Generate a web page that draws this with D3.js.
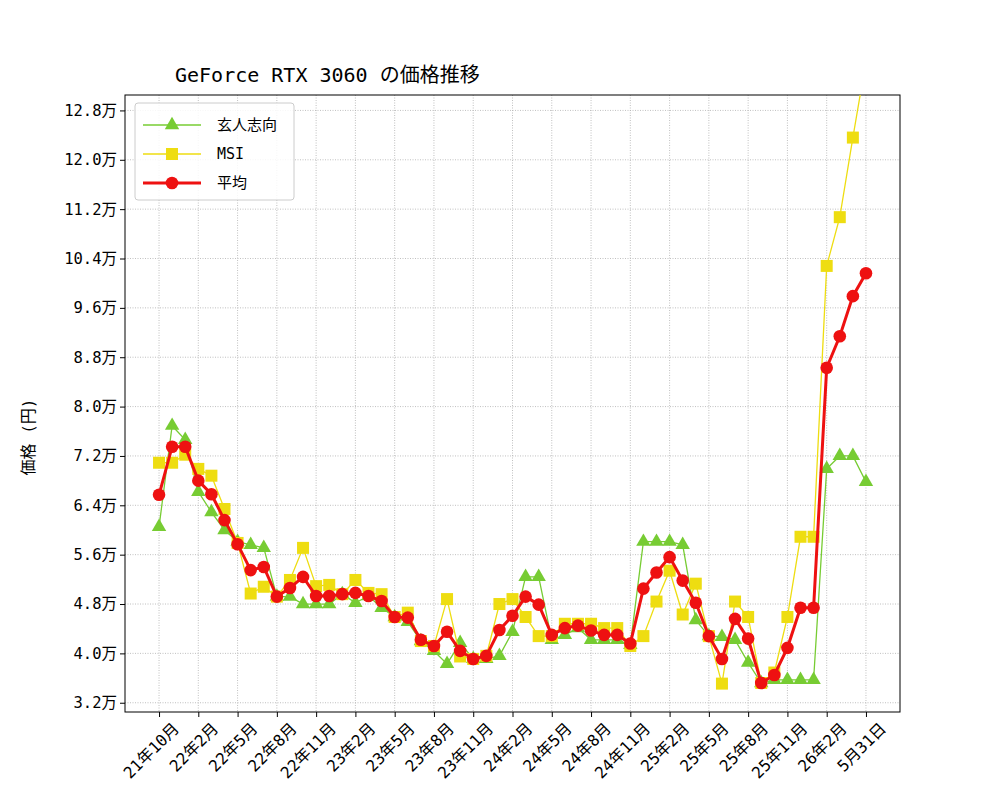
<!DOCTYPE html>
<html><head><meta charset="utf-8">
<script src="https://cdn.jsdelivr.net/npm/d3@7"></script>
<style>body{margin:0;background:#fff}text{font-family:"DejaVu Sans Mono","Noto Sans CJK JP",monospace}</style>
</head><body><svg id="c" width="1000" height="800"></svg>
<script>
const tickLabels=["21年10月","22年2月","22年5月","22年8月","22年11月","23年2月","23年5月","23年8月","23年11月","24年2月","24年5月","24年8月","24年11月","25年2月","25年5月","25年8月","25年11月","26年2月","5月31日"];
const tickIndex=[0,3,6,9,12,15,18,21,24,27,30,33,36,39,42,45,48,51,54];
const kuroto=[6.05,7.69,7.46,6.62,6.29,6.00,5.81,5.76,5.71,4.92,4.92,4.80,4.80,4.80,4.96,4.82,4.93,4.74,4.59,4.51,4.20,4.04,3.83,4.17,3.91,3.91,3.96,4.35,5.24,5.24,4.22,4.30,4.41,4.22,4.22,4.22,4.14,5.81,5.81,5.81,5.76,4.54,4.28,4.27,4.22,3.85,3.52,3.57,3.57,3.57,3.57,6.99,7.20,7.20,6.78];
const msi=[7.09,7.09,7.22,6.99,6.88,6.34,5.79,4.97,5.08,4.92,5.19,5.71,5.09,5.11,4.96,5.19,4.98,4.96,4.59,4.66,4.20,4.12,4.88,3.95,3.91,3.96,4.80,4.88,4.59,4.28,4.28,4.48,4.48,4.48,4.41,4.41,4.12,4.28,4.84,5.34,4.63,5.13,4.28,3.51,4.84,4.59,3.52,3.69,4.59,5.89,5.89,10.28,11.07,12.36,13.6];
const avg=[6.57,7.35,7.35,6.80,6.58,6.16,5.77,5.35,5.40,4.92,5.06,5.24,4.93,4.93,4.96,4.98,4.93,4.85,4.59,4.58,4.22,4.12,4.35,4.04,3.91,3.96,4.38,4.61,4.92,4.79,4.30,4.41,4.45,4.37,4.30,4.30,4.16,5.05,5.31,5.56,5.18,4.82,4.28,3.91,4.56,4.24,3.52,3.65,4.09,4.74,4.74,8.63,9.14,9.79,10.16];
const yTicks=[3.2,4.0,4.8,5.6,6.4,7.2,8.0,8.8,9.6,10.4,11.2,12.0,12.8];

const L=125,R=900,T=95,B=712;
const svg=d3.select("#c");
const x=d3.scaleLinear().domain([-2.6,56.6]).range([L,R]);
const y=d3.scaleLinear().domain([3.05,13.05]).range([B,T]);
svg.append("defs").append("clipPath").attr("id","cp").append("rect").attr("x",L).attr("y",T).attr("width",R-L).attr("height",B-T);
const g=svg.append("g");
g.selectAll(".gx").data(tickIndex).join("line").attr("x1",d=>x(d)).attr("x2",d=>x(d)).attr("y1",T).attr("y2",B).attr("stroke","#b0b0b0").attr("stroke-width",0.8).attr("stroke-dasharray","1,1.5");
g.selectAll(".gy").data(yTicks).join("line").attr("x1",L).attr("x2",R).attr("y1",d=>y(d)).attr("y2",d=>y(d)).attr("stroke","#b0b0b0").attr("stroke-width",0.8).attr("stroke-dasharray","1,1.5");
const xa=svg.append("g").attr("transform",`translate(0,${B})`).call(d3.axisBottom(x).tickValues(tickIndex).tickFormat((d,i)=>tickLabels[i]).tickSizeOuter(0).tickSize(5));
xa.selectAll("text").attr("font-size",16).attr("fill","#000").attr("text-anchor","end").attr("transform","translate(7,4) rotate(-45)").attr("dy","0.7em");
const ya=svg.append("g").attr("transform",`translate(${L},0)`).call(d3.axisLeft(y).tickValues(yTicks).tickFormat(d=>d.toFixed(1)+"万").tickSizeOuter(0).tickSize(5));
ya.selectAll("text").attr("font-size",15.5).attr("fill","#000");
svg.selectAll(".domain").remove();
svg.append("rect").attr("x",L).attr("y",T).attr("width",R-L).attr("height",B-T).attr("fill","none").attr("stroke","#000").attr("stroke-width",1);
svg.append("text").attr("x",175).attr("y",82).attr("font-size",20).text("GeForce RTX 3060 の価格推移");
svg.append("text").attr("transform","translate(34,437) rotate(-90)").attr("text-anchor","middle").attr("font-size",16).text("価格 (円)");

const series=[
 {name:"玄人志向",data:kuroto,color:"#77cc33",w:1.3,m:"tri"},
 {name:"MSI",data:msi,color:"#eedd11",w:1.3,m:"sq"},
 {name:"平均",data:avg,color:"#ee1111",w:3,m:"circ"}];
const pg=svg.append("g").attr("clip-path","url(#cp)");
const line=d3.line().x((d,i)=>x(i)).y(d=>y(d));
function marker(sel,m,color){
 if(m==="tri") sel.append("path").attr("d",d3.symbol(d3.symbolTriangle,90)()).attr("fill",color);
 else if(m==="sq") sel.append("rect").attr("x",-6).attr("y",-6).attr("width",12).attr("height",12).attr("fill",color);
 else sel.append("circle").attr("r",6.3).attr("fill",color);
}
series.forEach(s=>{
 pg.append("path").datum(s.data).attr("d",line).attr("fill","none").attr("stroke",s.color).attr("stroke-width",s.w);
 pg.selectAll(null).data(s.data).join("g").attr("transform",(d,i)=>`translate(${x(i)},${y(d)})`).each(function(){marker(d3.select(this),s.m,s.color);});
});
const lg=svg.append("g");
lg.append("rect").attr("x",135).attr("y",103).attr("width",159).attr("height",97).attr("rx",3).attr("fill","#fff").attr("fill-opacity",0.85).attr("stroke","#ccc");
series.forEach((s,i)=>{
 const yy=125+i*29;
 lg.append("line").attr("x1",143).attr("x2",201).attr("y1",yy).attr("y2",yy).attr("stroke",s.color).attr("stroke-width",s.w);
 marker(lg.append("g").attr("transform",`translate(172,${yy})`),s.m,s.color);
 lg.append("text").attr("x",217).attr("y",yy+5).attr("font-size",15).text(s.name);
});
</script></body></html>
